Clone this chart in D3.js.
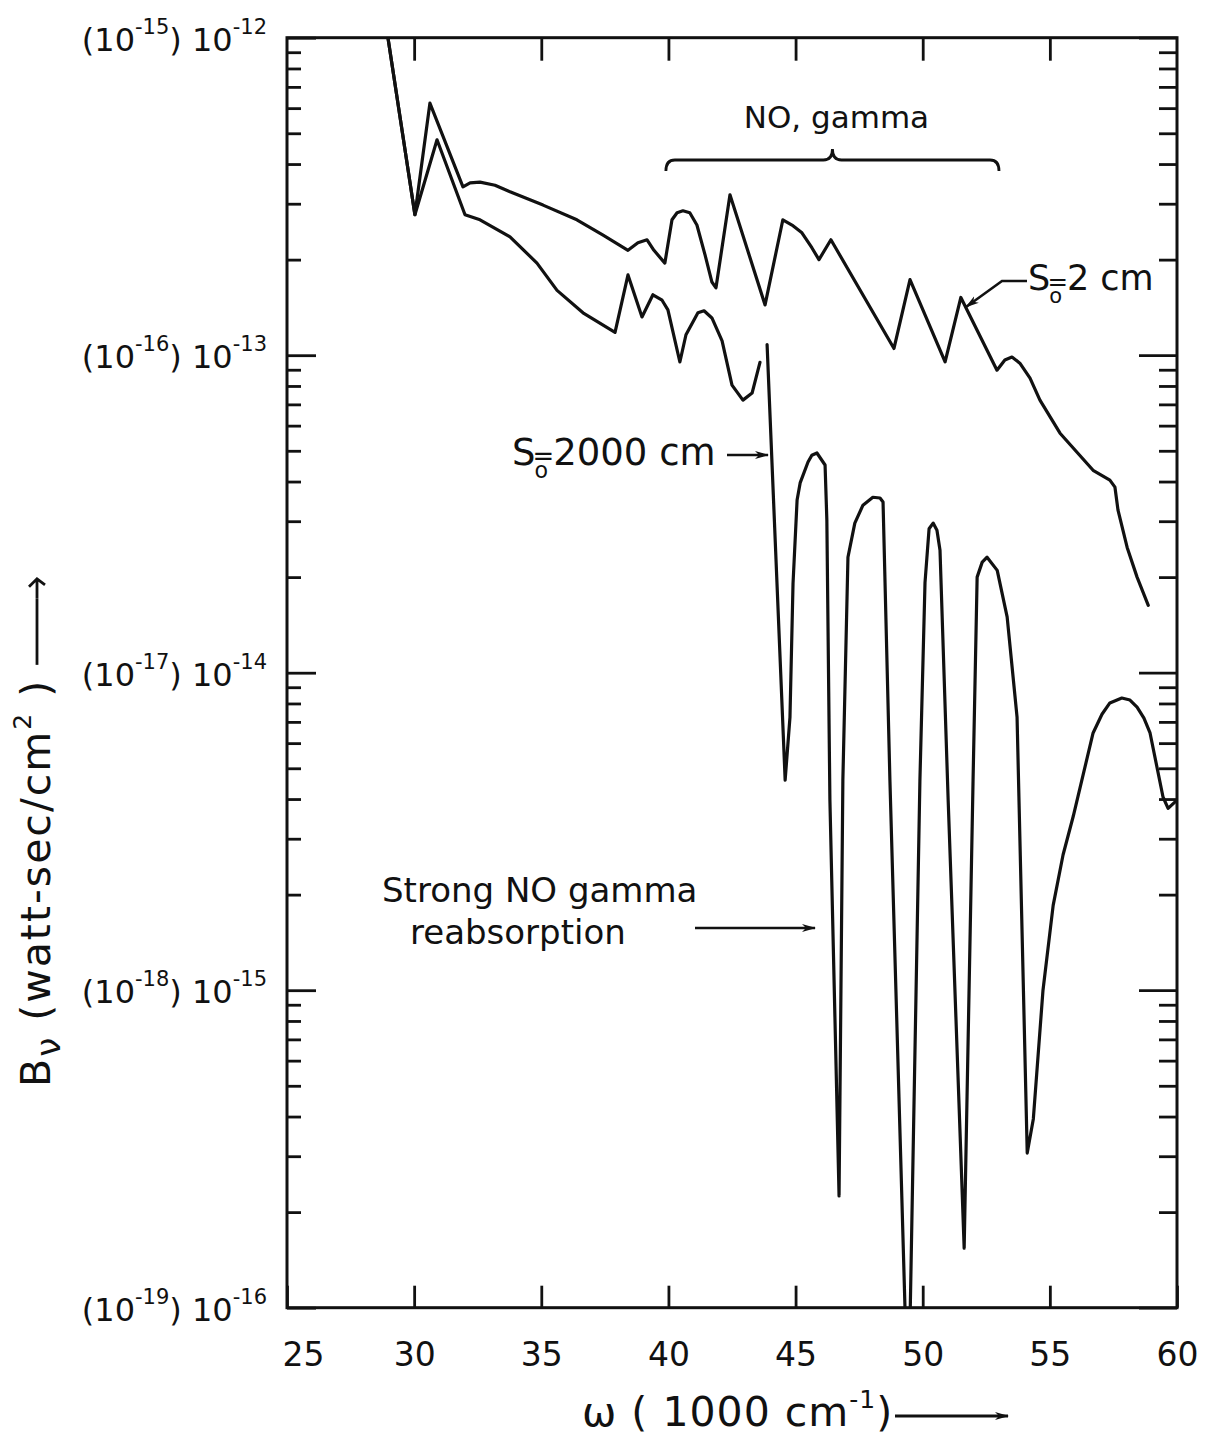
<!DOCTYPE html>
<html>
<head>
<meta charset="utf-8">
<script src="https://cdn.jsdelivr.net/npm/d3@7"></script>
<style>
body { margin: 0; background: #fff; }
svg text { font-family: "DejaVu Sans", sans-serif; fill: #111; }
</style>
</head>
<body>
<script>
// axis values
var wnTicks = [25, 30, 35, 40, 45, 50, 55, 60];
var decades = [1e-12, 1e-13, 1e-14, 1e-15, 1e-16];
var expMain = ["-12", "-13", "-14", "-15", "-16"];
var expParen = ["-15", "-16", "-17", "-18", "-19"];

// S0 = 2 cm  [w (1000 cm^-1), B]
var thin = [
  [28.97, 1.0e-12], [30.03, 2.77e-13], [30.62, 6.22e-13], [31.92, 3.39e-13], [32.20, 3.49e-13],
  [32.59, 3.51e-13], [33.18, 3.43e-13], [33.77, 3.27e-13], [35.07, 2.97e-13], [36.40, 2.67e-13],
  [37.43, 2.39e-13], [38.41, 2.14e-13], [38.80, 2.26e-13], [39.16, 2.31e-13], [39.43, 2.14e-13],
  [39.86, 1.95e-13], [40.14, 2.67e-13], [40.34, 2.81e-13], [40.57, 2.85e-13], [40.84, 2.81e-13],
  [41.12, 2.57e-13], [41.44, 2.07e-13], [41.71, 1.70e-13], [41.87, 1.63e-13], [42.42, 3.20e-13],
  [43.80, 1.44e-13], [44.50, 2.67e-13], [44.86, 2.57e-13], [45.25, 2.43e-13], [45.64, 2.18e-13],
  [45.92, 2.00e-13], [46.39, 2.31e-13], [48.87, 1.05e-13], [49.50, 1.73e-13], [50.88, 9.53e-14],
  [51.50, 1.52e-13], [52.92, 8.97e-14], [53.23, 9.66e-14], [53.51, 9.87e-14], [53.82, 9.44e-14],
  [54.22, 8.47e-14], [54.61, 7.22e-14], [55.40, 5.68e-14], [56.70, 4.34e-14], [57.36, 4.04e-14],
  [57.56, 3.84e-14], [57.68, 3.25e-14], [58.04, 2.48e-14], [58.43, 2.00e-14], [58.87, 1.63e-14]
];

// S0 = 2000 cm, first part (up to the break near 43.6)
var thickA = [
  [28.97, 1.0e-12], [30.03, 2.77e-13], [30.90, 4.77e-13], [32.00, 2.77e-13], [32.59, 2.67e-13],
  [33.77, 2.36e-13], [34.83, 1.95e-13], [35.62, 1.60e-13], [36.64, 1.36e-13], [37.90, 1.18e-13],
  [38.41, 1.79e-13], [38.96, 1.32e-13], [39.39, 1.55e-13], [39.75, 1.49e-13], [39.98, 1.39e-13],
  [40.45, 9.52e-14], [40.69, 1.16e-13], [41.16, 1.36e-13], [41.40, 1.38e-13], [41.71, 1.31e-13],
  [42.11, 1.11e-13], [42.50, 8.05e-14], [42.93, 7.22e-14], [43.29, 7.60e-14], [43.60, 9.50e-14]
];

// S0 = 2000 cm, second part (strong reabsorption)
var thickB = [
  [43.88, 1.08e-13], [44.59, 4.59e-15], [44.78, 7.25e-15], [44.90, 1.91e-14], [45.06, 3.50e-14],
  [45.18, 3.96e-14], [45.49, 4.61e-14], [45.64, 4.84e-14], [45.84, 4.92e-14], [46.16, 4.51e-14],
  [46.23, 3.03e-14], [46.35, 3.98e-15], [46.71, 2.25e-16], [46.86, 4.59e-15], [47.06, 2.31e-14],
  [47.33, 2.96e-14], [47.65, 3.37e-14], [48.04, 3.57e-14], [48.32, 3.55e-14], [48.44, 3.45e-14],
  [48.71, 4.59e-15], [49.43, 4.4e-17], [49.89, 4.59e-15], [50.09, 1.92e-14], [50.25, 2.84e-14],
  [50.41, 2.96e-14], [50.56, 2.81e-14], [50.68, 2.43e-14], [51.00, 3.98e-15], [51.63, 1.54e-16],
  [51.98, 4.59e-15], [52.14, 2.00e-14], [52.34, 2.23e-14], [52.53, 2.31e-14], [52.93, 2.10e-14],
  [53.32, 1.50e-14], [53.71, 7.25e-15], [54.11, 3.07e-16], [54.35, 3.93e-16], [54.73, 1.00e-15],
  [55.13, 1.85e-15], [55.52, 2.67e-15], [55.92, 3.53e-15], [56.70, 6.46e-15], [57.05, 7.40e-15],
  [57.36, 8.03e-15], [57.83, 8.32e-15], [58.15, 8.20e-15], [58.43, 7.79e-15], [58.70, 7.19e-15],
  [58.94, 6.46e-15], [59.45, 4.06e-15], [59.65, 3.74e-15], [60.00, 3.97e-15]
];

var braceSpan = [39.9, 53.0];

var svg = d3.select("body").append("svg").attr("width", 1210).attr("height", 1435);
var x = d3.scaleLinear().domain([25, 60]).range([287, 1177]);
var y = d3.scaleLog().domain([1e-16, 1e-12]).range([1307.7, 37.7]);

var defs = svg.append("defs");
defs.append("clipPath").attr("id", "plot")
    .append("rect").attr("x", x(25)).attr("y", y(1e-12))
    .attr("width", x(60) - x(25)).attr("height", y(1e-16) - y(1e-12));
defs.append("marker").attr("id", "head").attr("viewBox", "0 0 14 10")
    .attr("refX", 13).attr("refY", 5).attr("markerWidth", 14).attr("markerHeight", 10)
    .attr("markerUnits", "userSpaceOnUse").attr("orient", "auto")
    .append("path").attr("d", "M0,1 L14,5 L0,9 L4,5 Z").attr("fill", "#111");

// frame
svg.append("rect").attr("x", x(25)).attr("y", y(1e-12))
   .attr("width", x(60) - x(25)).attr("height", y(1e-16) - y(1e-12))
   .attr("fill", "none").attr("stroke", "#111").attr("stroke-width", 3);

var majors = decades;
var minors = y.ticks().filter(function (d) {
    return majors.every(function (m) { return Math.abs(d / m - 1) > 1e-6; });
});

function styleAxis(g) {
    g.select(".domain").remove();
    g.selectAll("line").attr("stroke", "#111").attr("stroke-width", 2.8);
}

svg.append("g").attr("transform", "translate(0," + y(1e-16) + ")")
   .call(d3.axisBottom(x).tickValues(wnTicks).tickSize(-22).tickPadding(35).tickFormat(d3.format("d")))
   .call(styleAxis)
   .call(function (g) {
       g.selectAll("text").style("font-size", "33px").attr("fill", "#111");
       g.selectAll(".tick").filter(function (d) { return d === 25; }).select("text").attr("dx", 16);
   });

svg.append("g").attr("transform", "translate(0," + y(1e-12) + ")")
   .call(d3.axisTop(x).tickValues(wnTicks.slice(1, -1)).tickSize(-23).tickFormat(""))
   .call(styleAxis);

svg.append("g").attr("transform", "translate(" + x(25) + ",0)")
   .call(d3.axisLeft(y).tickValues(majors).tickSize(-29).tickFormat(""))
   .call(styleAxis);
svg.append("g").attr("transform", "translate(" + x(25) + ",0)")
   .call(d3.axisLeft(y).tickValues(minors).tickSize(-14).tickFormat(""))
   .call(styleAxis);
svg.append("g").attr("transform", "translate(" + x(60) + ",0)")
   .call(d3.axisRight(y).tickValues(majors).tickSize(-38).tickFormat(""))
   .call(styleAxis);
svg.append("g").attr("transform", "translate(" + x(60) + ",0)")
   .call(d3.axisRight(y).tickValues(minors).tickSize(-18).tickFormat(""))
   .call(styleAxis);

// y tick labels "(10^-15) 10^-12"
decades.forEach(function (d, i) {
    var t = svg.append("text").attr("x", 267).attr("y", y(d) + 13)
               .attr("text-anchor", "end").style("font-size", "32px");
    t.append("tspan").text("(10");
    t.append("tspan").text(expParen[i]).style("font-size", "21px").attr("dy", -17);
    t.append("tspan").text(")").attr("dy", 17);
    t.append("tspan").text(" 10");
    t.append("tspan").text(expMain[i]).style("font-size", "21px").attr("dy", -17);
});

// curves
var line = d3.line().x(function (d) { return x(d[0]); }).y(function (d) { return y(d[1]); });
var curves = svg.append("g").attr("clip-path", "url(#plot)");
[thin, thickA, thickB].forEach(function (s) {
    curves.append("path").datum(s).attr("d", line)
          .attr("fill", "none").attr("stroke", "#111").attr("stroke-width", 3.2)
          .attr("stroke-linejoin", "round").attr("stroke-linecap", "round");
});

// NO, gamma brace
var bx0 = x(braceSpan[0]), bx1 = x(braceSpan[1]), bxm = (bx0 + bx1) / 2;
svg.append("path")
   .attr("d", "M" + bx0 + ",171 Q" + bx0 + ",160 " + (bx0 + 9) + ",160 L" + (bxm - 9) + ",160 Q" + bxm + ",160 " + bxm + ",149"
        + " Q" + bxm + ",160 " + (bxm + 9) + ",160 L" + (bx1 - 9) + ",160 Q" + bx1 + ",160 " + bx1 + ",171")
   .attr("fill", "none").attr("stroke", "#111").attr("stroke-width", 2.8);
svg.append("text").attr("x", bxm + 4).attr("y", 128).attr("text-anchor", "middle")
   .style("font-size", "31px").text("NO, gamma");

// S0 labels: S, subscript o sitting under the "=" sign
function soLabel(px, py, rest, fs) {
    var t = svg.append("text").attr("x", px).attr("y", py).style("font-size", fs + "px");
    t.append("tspan").text("S");
    t.append("tspan").text("o").style("font-size", (fs * 0.6) + "px").attr("dx", -1).attr("dy", fs * 0.36);
    t.append("tspan").text("=").attr("dx", -fs * 0.42).attr("dy", -fs * 0.36).style("font-size", (fs * 0.7) + "px");
    t.append("tspan").text(rest).attr("dx", -1);
}
soLabel(512, 465, "2000 cm", 37);
svg.append("line").attr("x1", 727).attr("y1", 455).attr("x2", 768).attr("y2", 455)
   .attr("stroke", "#111").attr("stroke-width", 2.6).attr("marker-end", "url(#head)");

soLabel(1028, 290, "2 cm", 35);
svg.append("path").attr("d", "M1027,281 L1002,281 L966,307")
   .attr("fill", "none").attr("stroke", "#111").attr("stroke-width", 2.6).attr("marker-end", "url(#head)");

// reabsorption note
svg.append("text").attr("x", 382).attr("y", 902).style("font-size", "34px").text("Strong NO gamma");
svg.append("text").attr("x", 410).attr("y", 944).style("font-size", "34px").text("reabsorption");
svg.append("line").attr("x1", 695).attr("y1", 928).attr("x2", 815).attr("y2", 928)
   .attr("stroke", "#111").attr("stroke-width", 2.6).attr("marker-end", "url(#head)");

// x title
var xt = svg.append("text").attr("x", 582).attr("y", 1426).style("font-size", "41px")
            .style("letter-spacing", "1px");
xt.append("tspan").text("\u03c9 ( 1000 cm");
xt.append("tspan").text("-1").style("font-size", "25px").attr("dy", -18);
xt.append("tspan").text(")").attr("dy", 18);
svg.append("line").attr("x1", 895).attr("y1", 1416).attr("x2", 1008).attr("y2", 1416)
   .attr("stroke", "#111").attr("stroke-width", 3.2).attr("marker-end", "url(#head)");

// y title, reading upward
var yg = svg.append("g").attr("transform", "translate(50,1087) rotate(-90)");
var yt = yg.append("text").attr("x", 0).attr("y", 0).style("font-size", "41px")
           .style("letter-spacing", "2px");
yt.append("tspan").text("B");
yt.append("tspan").text("\u03bd").style("font-size", "34px").attr("dy", 10);
yt.append("tspan").text(" (watt-sec/cm").attr("dy", -10);
yt.append("tspan").text("2").style("font-size", "25px").attr("dy", -19);
yt.append("tspan").text(" )").attr("dy", 19);
var yEnd = yt.node().getComputedTextLength();
yg.append("line").attr("x1", yEnd + 14).attr("y1", -13).attr("x2", yEnd + 80).attr("y2", -13)
  .attr("stroke", "#111").attr("stroke-width", 2.8);
yg.append("path")
  .attr("d", "M" + (yEnd + 80) + ",-13 L" + (yEnd + 100) + ",-13 M" + (yEnd + 92) + ",-21 L" + (yEnd + 100) + ",-13 L" + (yEnd + 94) + ",-5")
  .attr("fill", "none").attr("stroke", "#111").attr("stroke-width", 2.8);
</script>
</body>
</html>
